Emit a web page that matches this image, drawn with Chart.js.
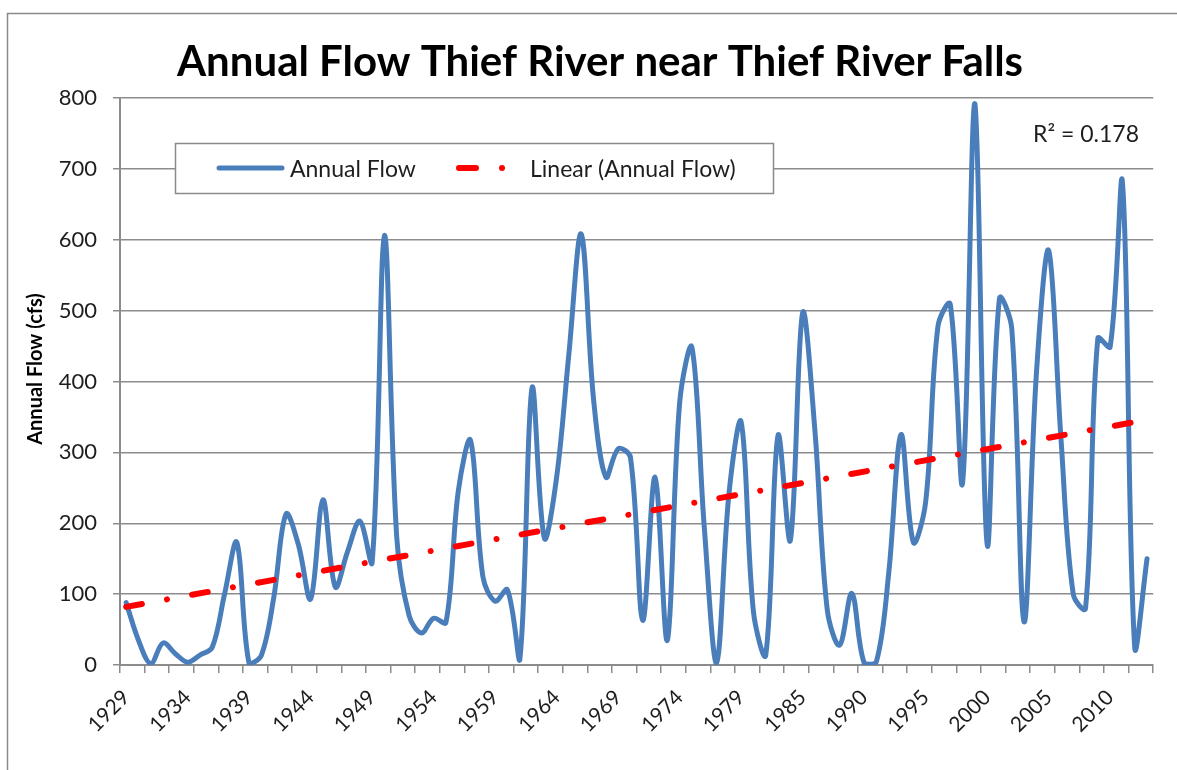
<!DOCTYPE html>
<html>
<head>
<meta charset="utf-8">
<script src="https://cdn.jsdelivr.net/npm/chart.js@4"></script>
<style>
  html, body { margin: 0; padding: 0; background: #ffffff; }
  #wrap { width: 1177px; height: 770px; position: relative; }
</style>
</head>
<body>
<div id="wrap"><canvas id="c" width="1177" height="770"></canvas></div>
<script>
// ---- data ----
const years = ['1929','1930','1931','1932','1933','1934','1935','1936','1937','1938',
  '1939','1940','1941','1942','1943','1944','1945','1946','1947','1948',
  '1949','1950','1951','1952','1953','1954','1955','1956','1957','1958',
  '1959','1960','1961','1962','1963','1964','1965','1966','1967','1968',
  '1969','1970','1971','1972','1973','1974','1975','1976','1977','1978',
  '1979','1980','1981','1982','1983','1985','1986','1987','1988','1989',
  '1990','1991','1992','1993','1994','1995','1996','1997','1998','1999',
  '2000','2001','2002','2003','2004','2005','2006','2007','2008','2009',
  '2010','2011','2012','2013'];
const annualFlow = [88,35,2,31,16,4,14,25,100,173,
  2,14,95,213,170,93,233,110,160,203,
  145,606,180,70,45,66,60,245,317,125,
  90,106,7,391,179,265,440,608,375,265,
  305,293,63,265,35,370,448,195,3,240,
  343,75,14,324,176,497,330,78,28,101,
  3,5,130,325,173,230,478,509,257,792,
  170,517,475,61,410,585,320,100,80,461,
  449,681,24,150];
const trendYears = ['1929','2013'];
const trendValues = [82, 346];
const yTickValues = [0,100,200,300,400,500,600,700,800];
const chartTitle = 'Annual Flow Thief River near Thief River Falls';
const yTitle = 'Annual Flow (cfs)';
const seriesName = 'Annual Flow';
const trendName = 'Linear (Annual Flow)';
const r2Text = 'R\u00B2 = 0.178';

// ---- styles ----
const FONT = 'Lato, "Open Sans", sans-serif';
const BLUE = '#4A7EBB';
const RED = '#FF0000';
const GRID = '#8c8c8c';
const TEXT = '#1e1e1e';
const DASH = [16, 25.5, 0.01, 25.5];

const decorPlugin = {
  id: 'decor',
  afterDraw(chart) {
    const ctx = chart.ctx;
    ctx.save();
    // outer frame
    ctx.strokeStyle = '#8a8a8a';
    ctx.lineWidth = 1.5;
    ctx.strokeRect(7.5, 13.5, 1400, 1000);
    // title
    ctx.fillStyle = '#000000';
    ctx.font = 'bold 42px ' + FONT;
    ctx.textAlign = 'center';
    ctx.textBaseline = 'alphabetic';
    ctx.fillText(chartTitle, 600, 76);
    // y title
    ctx.save();
    ctx.translate(42, 369);
    ctx.rotate(-Math.PI / 2);
    ctx.font = 'bold 20px ' + FONT;
    ctx.fillStyle = '#000000';
    ctx.textAlign = 'center';
    ctx.fillText(yTitle, 0, 0);
    ctx.restore();
    // legend box
    ctx.fillStyle = '#ffffff';
    ctx.fillRect(175, 143, 598, 50);
    ctx.strokeStyle = '#8a8a8a';
    ctx.lineWidth = 1.5;
    ctx.strokeRect(175.5, 143.5, 598, 50);
    ctx.lineCap = 'round';
    ctx.strokeStyle = BLUE;
    ctx.lineWidth = 5;
    ctx.beginPath(); ctx.moveTo(219, 168); ctx.lineTo(282, 168); ctx.stroke();
    ctx.strokeStyle = RED;
    ctx.lineWidth = 6;
    ctx.beginPath(); ctx.moveTo(459, 168); ctx.lineTo(476, 168); ctx.stroke();
    ctx.beginPath(); ctx.moveTo(502, 168); ctx.lineTo(502.01, 168); ctx.stroke();
    ctx.font = '23px ' + FONT;
    ctx.fillStyle = TEXT;
    ctx.textAlign = 'left';
    ctx.textBaseline = 'alphabetic';
    ctx.fillText(seriesName, 290, 177);
    ctx.fillText(trendName, 530, 177);
    // R^2
    ctx.fillText(r2Text, 1033, 142);
    ctx.restore();
  }
};

new Chart(document.getElementById('c'), {
  type: 'line',
  data: {
    labels: years,
    datasets: [
      {
        label: trendName,
        data: trendYears.map((y, i) => ({ x: y, y: trendValues[i] })),
        borderColor: RED,
        borderWidth: 6,
        borderDash: DASH,
        borderCapStyle: 'round',
        pointRadius: 0,
        tension: 0,
        fill: false,
        order: 0
      },
      {
        label: seriesName,
        data: annualFlow,
        borderColor: BLUE,
        borderWidth: 5,
        pointRadius: 0,
        tension: 0.35,
        borderJoinStyle: 'round',
        borderCapStyle: 'round',
        fill: false,
        order: 1
      }
    ]
  },
  options: {
    responsive: false,
    animation: false,
    devicePixelRatio: 1,
    layout: { padding: { top: 98, right: 22, left: 0, bottom: 0 } },
    plugins: {
      legend: { display: false },
      title: { display: false },
      tooltip: { enabled: false }
    },
    scales: {
      x: {
        type: 'category',
        offset: true,
        afterFit(scale) { scale.height = 105; },
        grid: {
          offset: true,
          drawOnChartArea: false,
          drawTicks: true,
          tickLength: 8,
          lineWidth: 1.5,
          color: (c) => (c.index === undefined || c.index % 2 === 0) ? GRID : 'rgba(0,0,0,0)'
        },
        border: { color: GRID, width: 2 },
        ticks: {
          autoSkip: false,
          maxRotation: 45,
          minRotation: 45,
          padding: 12,
          color: TEXT,
          font: { family: FONT, size: 21 },
          callback: (v, i) => (i % 5 === 0 ? years[i] : '')
        }
      },
      y: {
        min: 0,
        max: 800,
        afterFit(scale) { scale.width = 120; },
        afterBuildTicks(scale) { scale.ticks = yTickValues.map(v => ({ value: v })); },
        grid: {
          color: GRID,
          lineWidth: 1.5,
          tickLength: 7
        },
        border: { color: GRID, width: 2 },
        ticks: {
          padding: 16,
          color: TEXT,
          font: { family: FONT, size: 22 }
        }
      }
    }
  },
  plugins: [decorPlugin]
});
</script>
</body>
</html>
